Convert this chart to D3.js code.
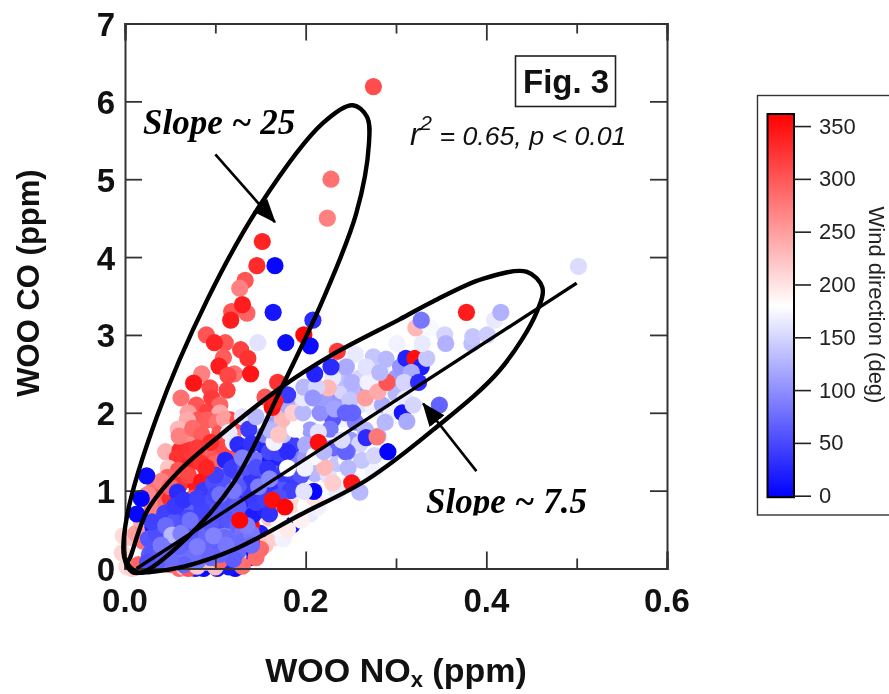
<!DOCTYPE html>
<html>
<head>
<meta charset="utf-8">
<script src="https://cdn.jsdelivr.net/npm/d3@7"></script>
<style>
  html, body { margin: 0; padding: 0; background: #fff; overflow: hidden; }
  svg { display: block; filter: blur(0.45px); font-family: "Liberation Sans", Arial, sans-serif; }
</style>
</head>
<body>
<div id="chart"></div>
<script>
// each point is [NOx ppm, CO ppm, wind direction deg], listed in paint order
const bottomRow = [
  [.087,0,8],[.102,0,12],[.122,0,6],[.078,0,20],[.115,.02,15],[.138,.14,10],[.185,.56,12],[.15,.45,20]
];
const paleUnder = [
  [.002,.02,205],[-.003,.2,210],[.008,0,215],[.015,.05,290],[-.002,.42,205],[.005,.4,225],[.012,.45,250],
  [.02,.35,280],[.02,.55,260],[.018,.62,240],[.03,.8,270],[.035,.95,260],[.045,.85,285],[.04,.62,290],
  [.03,.3,300],[.05,.05,280],[.06,0,285],[.065,.02,225],[.07,0,300],[.08,.03,215],[.09,.08,230],
  [.1,.02,225],[.105,.1,290],[.125,.15,220],[.13,.03,280],[.145,.14,285],[.155,.3,220],[.165,.4,215],
  [.175,.38,170],[.15,.25,285],[.17,.52,175],[.19,.7,175],[.205,.7,165],[.213,.78,170],[.195,.62,190],
  [.173,.95,210],[.16,.65,220],[.185,.82,205],[.14,.35,345],[.12,.45,345],[.14,.55,350],[.11,.72,345],
  [.2,1.05,175],[.215,1.15,185],[.17,.6,185],[.2,.8,180],[.18,.5,195]
];
const redArm = [
  [.275,6.19,306],[.228,5,280],[.224,4.5,270],[.152,4.2,335],[.146,3.89,330],[.133,3.7,300],[.127,3.6,270],
  [.135,3.28,290],[.118,3.3,300],[.117,3.19,340],[.13,3.39,340],[.09,3,300],[.111,2.9,300],[.099,2.9,335],
  [.128,2.81,315],[.136,2.7,325],[.109,2.71,295],[.104,2.6,340],[.085,2.5,270],[.121,2.5,280],[.139,2.5,345],
  [.114,2.48,310],[.076,2.38,345],[.094,2.32,310],[.062,2.19,280],[.113,2.29,315],[.096,2.19,320],
  [.079,2.1,300],[.105,2.1,290],[.07,2,250],[.091,2.01,315],[.105,2,240],[.081,1.91,300],[.091,1.91,295],
  [.069,1.91,240],[.116,1.91,320],[.102,1.88,280],[.059,1.79,230],[.079,1.69,345],[.105,1.74,300],
  [.07,1.62,260],[.097,1.61,300],[.045,1.5,235],[.061,1.52,330],[.072,1.52,325],[.092,1.48,290],
  [.058,1.42,325],[.075,1.42,320],[.048,1.29,220],[.069,1.3,335],[.059,1.26,300],[.047,1.17,290],
  [.089,1.29,340],[.072,1.14,345],[.031,1,280],[.044,1,300],[.025,.95,265],[.06,1.07,325],[.08,1.02,340],
  [.169,2.39,325],[.155,2.2,300],[.235,2.79,320],[.12,1.5,300],[.135,1.35,345],[.14,1.22,340],
  [.06,1.7,270],[.075,1.8,285],[.085,1.72,295],[.1,1.45,300],[.11,1.55,310],[.095,1.62,330],[.08,1.55,320],
  [.085,1.35,325],[.1,1.35,290],[.07,1.2,310],[.085,1.12,345],[.1,1.05,340],[.05,.9,330],[.06,.85,335],
  [.075,.9,300],[.09,.9,345],[.04,1.12,270],[.05,1.05,290],[.11,1.92,250],[.12,1.75,270],[.125,1.9,305]
];
const paleWash = [
  [.12,1.62,170],[.13,1.95,160],[.14,1.65,155],[.115,1.75,165],[.19,2.12,150],[.2,2.24,115],[.215,2.28,125],
  [.235,2.18,105],[.24,2.28,150],[.255,2.28,130],[.26,2.1,160],[.275,2.05,170],[.24,1.92,170],[.23,1.92,60],
  [.255,1.88,90],[.27,2.3,110],[.285,2.1,120],[.3,2.25,130],[.295,2,170],[.31,2.18,165],[.3,2.45,110],
  [.285,2.6,170],[.275,2.72,140],[.255,2.75,165],[.24,2.45,135],[.26,2.45,150],[.23,2.45,165],[.25,1.65,110],
  [.26,1.6,150],[.28,1.7,130],[.19,1.4,90],[.2,1.42,110],[.21,1.22,130],[.225,1.2,160],[.235,1.35,140],
  [.215,1.6,100],[.23,1.55,75],[.205,1.78,110]
];
const lowerBlues = [
  [.024,1.19,8],[.018,.9,2],[.013,.7,5],[.058,.98,30],[.044,.71,45],[.061,.71,40],[.075,.78,70],[.089,.97,50],
  [.031,.53,20],[.026,.38,60],[.038,.33,60],[.027,.18,65],[.038,.12,80],[.05,.2,70],[.05,.33,65],
  [.061,.55,60],[.07,.5,62],[.07,.2,70],[.068,.35,72],[.083,.37,60],[.082,.2,70],[.094,.3,65],[.1,.5,90],
  [.116,.5,100],[.12,.39,78],[.105,.26,60],[.115,.28,68],[.125,.22,72],[.095,.14,75],[.06,.12,80],[.08,.09,85],
  [.087,1,40],[.098,1.1,55],[.109,1.17,60],[.125,1.22,50],[.131,1.11,70],[.111,.95,60],[.095,.85,55],[.12,.9,62],
  [.108,.75,52],[.09,.68,58],[.08,.6,55],[.13,.72,65],[.146,1.17,30],[.131,.88,30],[.113,.92,40],[.142,.69,20],
  [.155,.75,25],[.15,.95,45],[.135,1.02,55],[.172,1.07,60],[.188,1.1,40],[.183,1,45],[.16,1.02,35],[.145,.85,42],
  [.111,1.39,25],[.125,1.59,30],[.135,1.48,25],[.146,1.39,80],[.152,1.59,25],[.137,1.79,40],[.161,1.39,20],
  [.174,1.39,25],[.174,1.59,50],[.186,1.59,45],[.128,1.35,35],[.15,1.25,70],[.165,1.22,65],[.12,1.3,40],
  [.03,.22,60],[.04,.25,65],[.045,.4,70],[.035,.45,55],[.03,.6,45],[.055,.6,60],[.045,.55,75],[.065,.42,65],
  [.06,.28,70],[.075,.3,68],[.075,.45,62],[.085,.5,58],[.09,.42,72],[.1,.38,68],[.11,.4,75],[.105,.62,55],
  [.095,.58,62],[.115,.62,60],[.125,.55,70],[.13,.45,80],[.13,.35,75],[.14,.45,85],[.14,.3,75],[.12,.12,65],
  [.105,.18,70],[.09,.2,72],[.075,.15,78],[.065,.05,70],[.05,.1,75],[.035,.05,65],[.025,.08,55],[.1,.72,60],
  [.085,.75,48],[.07,.65,50],[.055,.8,40],[.065,.88,35],[.08,.9,45],[.1,.95,50],[.115,.82,58],[.125,.8,65],
  [.14,.95,40],[.155,.88,45],[.16,.7,35],[.17,.92,55],[.15,1.1,60],[.14,1.15,38],[.125,1.05,62],[.11,1.05,58],
  [.1,1.2,45],[.118,1.28,42],[.133,1.3,58],[.145,1.3,55],[.158,1.28,35],[.175,1.22,42],[.185,1.25,50],[.195,1.2,60],
  [.14,1.6,35],[.16,1.5,50],[.17,1.48,45],[.18,1.5,30],[.155,1.72,90],[.165,1.85,110],[.145,1.95,130],[.175,1.72,140],
  [.052,.43,130]
];
const lighterBlues = [
  [.04,.3,85],[.062,.45,90],[.08,.28,88],[.098,.42,92],[.112,.3,85],[.072,.62,80],[.12,1,85],[.148,1.05,88],
  [.105,.95,80],[.135,.55,90],[.16,1.15,95],[.13,1.42,90],[.165,1.62,170],[.22,.95,175],[.245,1.4,175],[.235,.98,165],
  [.275,1.25,170],[.21,.9,200]
];
const paleMass = [
  [.188,1.79,180],[.174,1.91,230],[.161,1.78,130],[.2,1.59,120],[.179,2.1,120],[.186,2,215],[.197,2,130],
  [.197,2.19,165],[.198,2.33,130],[.18,2.23,40],[.216,2,100],[.22,2.19,110],[.225,2.32,230],[.212,2.33,150],
  [.208,2.19,105],[.232,2.05,115],[.227,1.79,85],[.214,1.75,160],[.249,2.16,140],[.244,2,70],[.252,2,70],
  [.251,2.39,125],[.269,2.39,170],[.266,2.19,250],[.28,2.27,240],[.29,2.39,300],[.245,2.59,120],[.267,2.59,160],
  [.282,2.52,130],[.228,2.59,30],[.289,2.69,130],[.266,1.78,130],[.267,1.68,30],[.279,1.69,275],[.288,1.88,130],
  [.246,1.5,80],[.244,1.5,70],[.262,1.39,140],[.247,1.29,130],[.221,1.3,230],[.199,1.29,170],[.23,1.1,215],
  [.18,1.29,180],[.24,1.65,155],[.21,1.45,175],[.251,1.1,345],[.26,.98,130],[.22,1.5,130],[.276,1.45,150],
  [.291,1.5,2],[.307,2,15],[.312,1.89,120],[.319,2.1,150],[.348,2.1,70],[.305,2.59,105],[.311,2.7,25],
  [.321,2.7,350],[.328,2.59,20],[.334,2.7,140],[.317,2.52,120],[.309,2.39,150],[.325,2.39,30],[.301,2.89,170],
  [.329,2.89,165],[.322,3.09,230],[.338,3.09,175],[.328,3.19,85],[.354,3,150],[.355,2.89,125],[.384,2.89,135],
  [.385,2.98,140],[.401,3,145],[.378,3.29,340],[.409,3.19,165],[.416,3.29,125],[.502,3.88,155]
];
const vividTop = [
  [.166,3.89,5],[.164,3.29,15],[.147,2.9,160],[.178,2.9,10],[.208,3.19,30],[.198,3,355],[.09,1.3,335],
  [.163,.88,350],[.177,.79,355],[.209,.99,5],[.214,1.62,350],[.163,2.07,350],[.127,.62,355],[.205,2.86,8],
  [.21,2.5,25],[.198,.99,160],[.17,1.72,220],[.166,2.15,340]
];
const pointGroups = [bottomRow, paleUnder, redArm, paleWash, lowerBlues, lighterBlues, paleMass, vividTop];

// hand drawn loops as [NOx, CO]
const steepLoop = [
  [.002,.66],[.035,1.94],[.091,3.45],[.149,4.66],[.219,5.72],[.252,5.95],[.268,5.8],[.27,5.45],[.256,4.56],
  [.219,3.45],[.172,2.29],[.12,1.1],[.06,.3],[.02,-.045],[.008,-.045],[-.001,.15]
];
const wideLoop = [
  [.006,.15],[.025,.75],[.058,1.23],[.102,1.68],[.172,2.32],[.23,2.75],[.304,3.2],[.341,3.43],[.396,3.72],
  [.445,3.81],[.462,3.61],[.456,3.3],[.415,2.55],[.341,1.78],[.268,1.14],[.194,.69],[.12,.24],[.064,.02],
  [.028,-.045],[.013,-.045],[.003,.07]
];
const fitLine = [[.013,0],[.5,3.665]];
const arrows = [
  [[.1,5.32],[.166,4.45]],
  [[.389,1.25],[.33,2.12]]
];

const xMajor = [0,.2,.4,.6];
const xMinor = [.1,.3,.5];
const yMajor = [0,1,2,3,4,5,6,7];
const windTicks = [0,50,100,150,200,250,300,350];

const svg = d3.select('#chart').append('svg').attr('width', 889).attr('height', 694);
const plot = { left: 125, right: 667, top: 23.5, bottom: 568.5 };

const x = d3.scaleLinear().domain([0, .6]).range([plot.left, plot.right]);
const y = d3.scaleLinear().domain([0, 7]).range([plot.bottom, plot.top]);
const windColor = d3.scaleLinear().domain([0, 180, 360]).range(['#0000ff', '#ffffff', '#ff0000']);
const windY = d3.scaleLinear().domain([0, 360]).range([495.7, 115.5]);

const defs = svg.append('defs');
defs.append('marker').attr('id', 'head')
  .attr('viewBox', '0 0 20 16').attr('refX', 19).attr('refY', 8)
  .attr('markerUnits', 'userSpaceOnUse').attr('markerWidth', 24).attr('markerHeight', 19)
  .attr('orient', 'auto')
  .append('path').attr('d', 'M0,0L20,8L0,16Z').attr('fill', '#000');
defs.append('clipPath').attr('id', 'cut75')
  .append('rect').attr('x', 400).attr('y', 470).attr('width', 220).attr('height', 45.5);

const grad = defs.append('linearGradient').attr('id', 'windGrad')
  .attr('x1', 0).attr('x2', 0).attr('y1', 1).attr('y2', 0);
[0, 90, 180, 270, 360].forEach(d => {
  grad.append('stop').attr('offset', d / 360).attr('stop-color', windColor(d));
});

// points
svg.append('g').selectAll('circle')
  .data(pointGroups.flat())
  .join('circle')
  .attr('cx', d => x(d[0]))
  .attr('cy', d => y(d[1]))
  .attr('r', 8.6)
  .attr('fill', d => windColor(d[2]));

// axes, top and right are mirrored with no labels
function styleAxis(g) {
  g.select('.domain').attr('stroke', '#333').attr('stroke-width', 2);
  g.selectAll('.tick line').attr('stroke', '#333').attr('stroke-width', 1.8);
}
const addAxis = (axis, tx, ty) => svg.append('g')
  .attr('transform', `translate(${tx},${ty})`)
  .call(axis).call(styleAxis);

addAxis(d3.axisBottom(x).tickValues(xMajor).tickSize(-17).tickFormat(''), 0, plot.bottom);
addAxis(d3.axisBottom(x).tickValues(xMinor).tickSize(-10).tickFormat(''), 0, plot.bottom);
addAxis(d3.axisTop(x).tickValues(xMajor).tickSize(-17).tickFormat(''), 0, plot.top);
addAxis(d3.axisTop(x).tickValues(xMinor).tickSize(-10).tickFormat(''), 0, plot.top);
addAxis(d3.axisLeft(y).tickValues(yMajor).tickSize(-17).tickFormat(''), plot.left, 0);
addAxis(d3.axisRight(y).tickValues(yMajor).tickSize(-17).tickFormat(''), plot.right, 0);

svg.append('g').selectAll('text').data(xMajor).join('text')
  .attr('x', d => x(d)).attr('y', 612)
  .attr('text-anchor', 'middle')
  .style('font-size', '33px').style('font-weight', 700).attr('fill', '#111')
  .text(d => d.toFixed(1));
svg.append('g').selectAll('text').data(yMajor).join('text')
  .attr('x', 115).attr('y', d => y(d) + 12.5)
  .attr('text-anchor', 'end')
  .style('font-size', '33px').style('font-weight', 700).attr('fill', '#111')
  .text(d => d);

// axis titles
const xTitle = svg.append('text').attr('x', 396).attr('y', 682)
  .attr('text-anchor', 'middle').attr('fill', '#111')
  .style('font-size', '34px').style('font-weight', 700);
xTitle.append('tspan').text('WOO NO');
xTitle.append('tspan').attr('dy', 5).style('font-size', '22px').text('x');
xTitle.append('tspan').attr('dy', -5).text(' (ppm)');
svg.append('text').attr('transform', 'translate(39,283) rotate(-90)')
  .attr('text-anchor', 'middle').attr('fill', '#111')
  .style('font-size', '31px').style('font-weight', 700)
  .text('WOO CO (ppm)');

// loops and the fit line
const loopPath = d3.line().x(d => x(d[0])).y(d => y(d[1])).curve(d3.curveCatmullRomClosed.alpha(.5));
svg.selectAll('.loop').data([steepLoop, wideLoop]).join('path')
  .attr('class', 'loop')
  .attr('d', loopPath)
  .attr('fill', 'none').attr('stroke', '#000').attr('stroke-width', 4.4);
svg.append('path')
  .attr('d', d3.line().x(d => x(d[0])).y(d => y(d[1]))(fitLine))
  .attr('stroke', '#000').attr('stroke-width', 3.4).attr('fill', 'none');

svg.selectAll('.arrow').data(arrows).join('line')
  .attr('class', 'arrow')
  .attr('x1', d => x(d[0][0])).attr('y1', d => y(d[0][1]))
  .attr('x2', d => x(d[1][0])).attr('y2', d => y(d[1][1]))
  .attr('stroke', '#000').attr('stroke-width', 2.6)
  .attr('marker-end', 'url(#head)');

// annotations
svg.append('text').attr('x', 143).attr('y', 134)
  .style('font-family', '"Liberation Serif", "Times New Roman", serif')
  .style('font-size', '35px').style('font-weight', 700).style('font-style', 'italic')
  .text('Slope ~ 25');
svg.append('text').attr('x', 426).attr('y', 513)
  .attr('clip-path', 'url(#cut75)')
  .style('font-family', '"Liberation Serif", "Times New Roman", serif')
  .style('font-size', '35px').style('font-weight', 700).style('font-style', 'italic')
  .text('Slope ~ 7.5');

svg.append('rect').attr('x', 515.5).attr('y', 56).attr('width', 100).attr('height', 50.5)
  .attr('fill', '#fff').attr('stroke', '#222').attr('stroke-width', 1.6);
svg.append('text').attr('x', 523).attr('y', 93)
  .style('font-size', '33px').style('font-weight', 700).attr('fill', '#111').text('Fig. 3');

const stats = svg.append('text').attr('x', 410).attr('y', 145)
  .attr('fill', '#111').style('font-style', 'italic').style('font-size', '26.7px');
stats.append('tspan').style('font-size', '31px').text('r');
stats.append('tspan').attr('dy', -15).style('font-size', '21px').text('2');
stats.append('tspan').attr('dy', 15).text(' = 0.65, p < 0.01');

// colour bar legend
svg.append('rect').attr('x', 757.5).attr('y', 95.5).attr('width', 140).attr('height', 419.5)
  .attr('fill', '#fff').attr('stroke', '#333').attr('stroke-width', 1.4);
svg.append('rect').attr('x', 767.5).attr('y', windY(360) - 1.5).attr('width', 26.5)
  .attr('height', windY(0) - windY(360) + 3)
  .attr('fill', 'url(#windGrad)').attr('stroke', '#000').attr('stroke-width', 2);

const windAxis = svg.append('g').attr('transform', 'translate(794,0)')
  .call(d3.axisRight(windY).tickValues(windTicks).tickSize(17).tickPadding(8));
windAxis.select('.domain').remove();
windAxis.selectAll('.tick line').attr('stroke', '#222').attr('stroke-width', 1.6);
windAxis.selectAll('.tick text')
  .style('font-family', '"Liberation Sans", Arial, sans-serif')
  .style('font-size', '22px').attr('fill', '#222');

svg.append('text').attr('transform', 'translate(869,305) rotate(90)')
  .attr('text-anchor', 'middle').attr('fill', '#222')
  .style('font-size', '22px')
  .text('Wind direction (deg)');
</script>
</body>
</html>
